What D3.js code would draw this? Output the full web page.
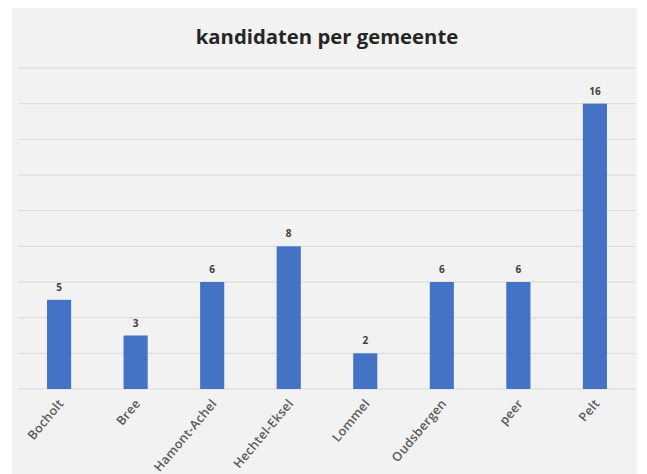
<!DOCTYPE html>
<html>
<head>
<meta charset="utf-8">
<script src="https://cdn.jsdelivr.net/npm/d3@7/dist/d3.min.js"></script>
<style>
html,body{margin:0;padding:0;background:#fff;}
svg{display:block;}
</style>
</head>
<body>
<svg id="chart" width="647" height="474"></svg>
<script>
const categories = ["Bocholt","Bree","Hamont-Achel","Hechtel-Eksel","Lommel","Oudsbergen","peer","Pelt"];
const values = [5,3,6,8,2,6,6,16];
const yTicks = [0,2,4,6,8,10,12,14,16,18];
const title = "kandidaten per gemeente";

const svg = d3.select("#chart");
const W = 647, H = 474;
const panel = {x:12, y:8, w:625, h:466};
svg.append("rect").attr("x",panel.x).attr("y",panel.y).attr("width",panel.w).attr("height",panel.h).attr("fill","#f2f2f2");

const m = {left:21, right:14, top:68, bottom:85};
const x = d3.scaleBand().domain(categories).range([m.left, W-m.right]).paddingInner(0.685).paddingOuter(0.34);
const y = d3.scaleLinear().domain([0,18]).range([H-m.bottom, m.top]);

const grid = svg.append("g");
grid.selectAll("line").data(yTicks).join("line")
  .attr("x1",18).attr("x2",635)
  .attr("y1",d=>y(d)).attr("y2",d=>y(d))
  .attr("stroke","#d9d9d9").attr("stroke-width",1);

svg.append("g").selectAll("rect").data(values).join("rect")
  .attr("x",(d,i)=>x(categories[i]))
  .attr("y",d=>y(d))
  .attr("width",x.bandwidth())
  .attr("height",d=>y(0)-y(d))
  .attr("fill","#4472c4");

svg.append("g").selectAll("text").data(values).join("text")
  .attr("x",(d,i)=>x(categories[i])+x.bandwidth()/2)
  .attr("y",d=>y(d)-9)
  .attr("text-anchor","middle")
  .attr("font-family","Open Sans, sans-serif")
  .attr("font-size",10)
  .attr("font-weight","bold")
  .attr("fill","#404040")
  .text(d=>d);

const xAxis = d3.axisBottom(x).tickSize(0).tickPadding(0);
const gx = svg.append("g").attr("transform",`translate(0,${y(0)})`).call(xAxis);
gx.select(".domain").remove();
gx.selectAll(".tick text")
  .attr("font-family","Open Sans, sans-serif")
  .attr("font-size",12.5)
  .attr("font-weight",600)
  .attr("letter-spacing",0.3)
  .attr("fill","#595959")
  .attr("text-anchor","end")
  .attr("x",0).attr("y",0)
  .attr("dy","0.35em")
  .attr("transform","translate(2,12) rotate(-50)");

svg.append("text")
  .attr("x",327).attr("y",44)
  .attr("text-anchor","middle")
  .attr("font-family","Open Sans, sans-serif")
  .attr("font-size",20.3)
  .attr("font-weight","bold")
  .attr("fill","#262626")
  .text(title);
</script>
</body>
</html>
